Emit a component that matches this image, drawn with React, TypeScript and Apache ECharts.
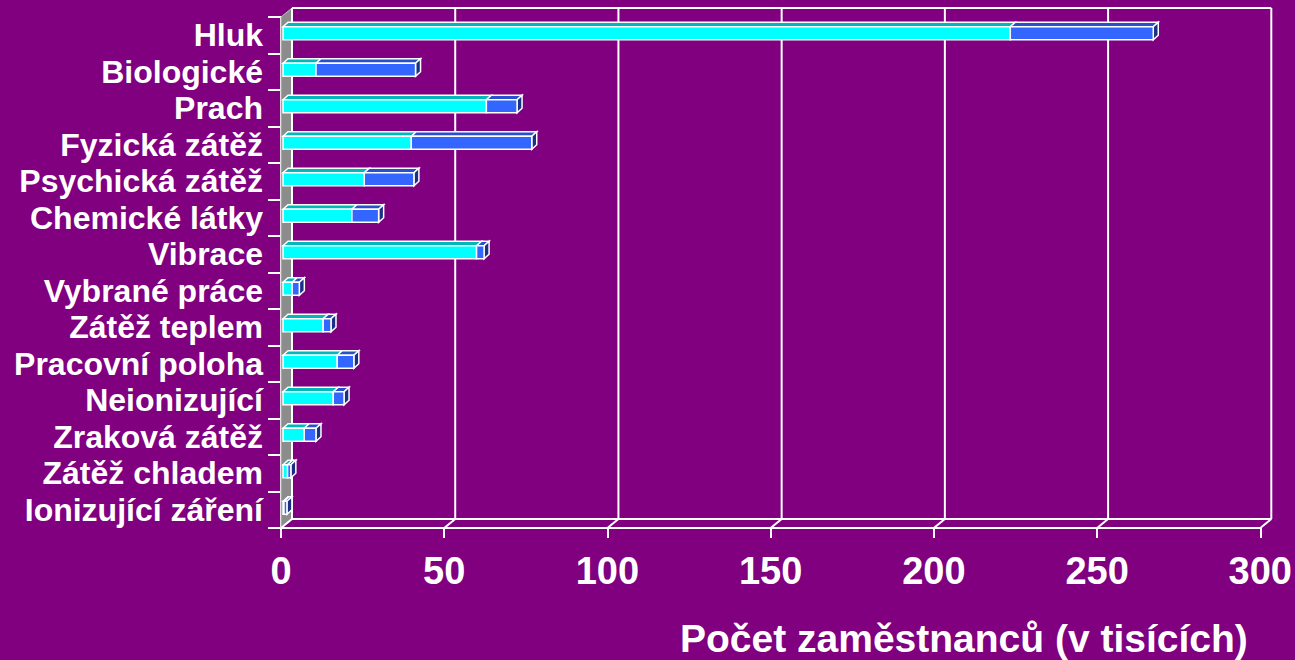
import React, { useEffect, useRef } from "react";
import * as echarts from "echarts";

const categories = [
  "Hluk",
  "Biologické",
  "Prach",
  "Fyzická zátěž",
  "Psychická zátěž",
  "Chemické látky",
  "Vibrace",
  "Vybrané práce",
  "Zátěž teplem",
  "Pracovní poloha",
  "Neionizující",
  "Zraková zátěž",
  "Zátěž chladem",
  "Ionizující záření",
];
const cyanValues = [222.8, 10.1, 62.3, 39.3, 24.9, 21.1, 59.3, 2.8, 12.3, 16.6, 15.4, 6.5, 1.4, 0.3];
const blueValues = [43.8, 30.5, 9.4, 36.9, 15.2, 8.2, 2.3, 2.2, 2.4, 5.1, 3.3, 3.6, 1.0, 0.9];
const xTicks = [0, 50, 100, 150, 200, 250, 300];
const axisTitle = "Počet zaměstnanců (v tisících)";

const BG = "#800080";
const FONT = "'Liberation Sans', Arial, sans-serif";
const WALL_DX = 11;
const WALL_DY = -9;
const BAR_DX = 5;
const BAR_DY = -4.5;
const BAR_H = 13;
const BAR_SHIFT = -2;
const BAR_X0 = 2;

export default function App() {
  const ref = useRef<HTMLDivElement>(null);
  useEffect(() => {
    if (!ref.current) return;
    const chart = echarts.init(ref.current, undefined, { renderer: "svg" });

    const wallItem = (params: any, api: any) => {
      const cs = params.coordSys;
      const top = cs.y;
      const bottom = cs.y + cs.height;
      const children: any[] = [];
      const x0 = api.coord([xTicks[0], 0])[0];
      const xN = api.coord([xTicks[xTicks.length - 1], 0])[0];
      children.push({
        type: "polygon",
        shape: {
          points: [
            [x0, top],
            [x0 + WALL_DX, top + WALL_DY],
            [x0 + WALL_DX, bottom + WALL_DY],
            [x0, bottom],
          ],
        },
        style: { fill: "#8c8c8c", stroke: "#c0c0c0", lineWidth: 1 },
      });
      xTicks.forEach((v) => {
        const x = api.coord([v, 0])[0] + WALL_DX;
        children.push({
          type: "line",
          shape: { x1: x, y1: top + WALL_DY, x2: x, y2: bottom + WALL_DY },
          style: { stroke: "#ffffff", lineWidth: 2 },
        });
        const fx = api.coord([v, 0])[0];
        children.push({
          type: "line",
          shape: { x1: fx, y1: bottom, x2: fx + WALL_DX, y2: bottom + WALL_DY },
          style: { stroke: "#ffffff", lineWidth: 2 },
        });
      });
      children.push({
        type: "line",
        shape: { x1: x0 + WALL_DX, y1: top + WALL_DY, x2: xN + WALL_DX, y2: top + WALL_DY },
        style: { stroke: "#ffffff", lineWidth: 2 },
      });
      children.push({
        type: "line",
        shape: { x1: x0 + WALL_DX, y1: bottom + WALL_DY, x2: xN + WALL_DX, y2: bottom + WALL_DY },
        style: { stroke: "#ffffff", lineWidth: 2 },
      });
      return { type: "group", children };
    };

    const face = (points: number[][], fill: string) => ({
      type: "polygon",
      shape: { points },
      style: { fill, stroke: "#ffffff", lineWidth: 1.5, lineJoin: "miter" },
    });

    const barItem = (params: any, api: any) => {
      const idx = api.value(0);
      const c = api.value(1);
      const b = api.value(2);
      const yc = api.coord([0, idx])[1] + BAR_SHIFT;
      const yT = yc - BAR_H / 2;
      const yB = yc + BAR_H / 2;
      const xa = api.coord([0, idx])[0] + BAR_X0;
      const xb = api.coord([c, idx])[0] + BAR_X0;
      const xc = api.coord([c + b, idx])[0] + BAR_X0;
      const children: any[] = [];
      const seg = (x1: number, x2: number, front: string, topC: string, last: boolean, side: string) => {
        children.push(
          face(
            [
              [x1, yT],
              [x1 + BAR_DX, yT + BAR_DY],
              [x2 + BAR_DX, yT + BAR_DY],
              [x2, yT],
            ],
            topC
          )
        );
        if (last) {
          children.push(
            face(
              [
                [x2, yT],
                [x2 + BAR_DX, yT + BAR_DY],
                [x2 + BAR_DX, yB + BAR_DY],
                [x2, yB],
              ],
              side
            )
          );
        }
        children.push(
          face(
            [
              [x1, yT],
              [x2, yT],
              [x2, yB],
              [x1, yB],
            ],
            front
          )
        );
      };
      seg(xa, xb, "#00ffff", "#00b8b8", b <= 0, "#008c8c");
      if (b > 0) seg(xb, xc, "#3366ff", "#2a4fcc", true, "#1c2f85");
      return { type: "group", children };
    };

    chart.setOption({
      animation: false,
      backgroundColor: BG,
      title: {
        text: axisTitle,
        left: 675,
        top: 614,
        textStyle: { color: "#ffffff", fontSize: 39, fontWeight: "bold", fontFamily: FONT },
      },
      grid: { left: 281, right: 34, top: 17, bottom: 132, containLabel: false },
      xAxis: {
        type: "value",
        min: 0,
        max: 300,
        interval: 50,
        axisLine: { show: true, lineStyle: { color: "#ffffff", width: 2 } },
        axisTick: { show: true, length: 10, lineStyle: { color: "#ffffff", width: 2 } },
        splitLine: { show: false },
        axisLabel: {
          color: "#ffffff",
          fontSize: 38,
          fontWeight: "bold",
          fontFamily: FONT,
          margin: 24,
        },
      },
      yAxis: {
        type: "category",
        inverse: true,
        data: categories,
        axisLine: { show: true, lineStyle: { color: "#ffffff", width: 2 } },
        axisTick: { show: true, length: 13, interval: 0, lineStyle: { color: "#ffffff", width: 2 } },
        axisLabel: {
          interval: 0,
          color: "#ffffff",
          fontSize: 32,
          fontWeight: "bold",
          fontFamily: FONT,
          margin: 18,
          padding: [4, 0, 0, 0],
        },
      },
      series: [
        {
          type: "custom",
          name: "wall",
          clip: false,
          silent: true,
          z: 1,
          renderItem: wallItem,
          encode: { x: 1, y: 0 },
          data: [[0, 0]],
        },
        {
          type: "custom",
          name: "bars",
          clip: false,
          z: 3,
          renderItem: barItem,
          encode: { x: 1, y: 0 },
          data: categories.map((_, i) => [i, cyanValues[i], blueValues[i]]),
        },
      ],
    });
    return () => chart.dispose();
  }, []);
  return (
    <div
      ref={ref}
      style={{ position: "fixed", left: 0, top: 0, width: 1295, height: 660, background: BG }}
    />
  );
}
